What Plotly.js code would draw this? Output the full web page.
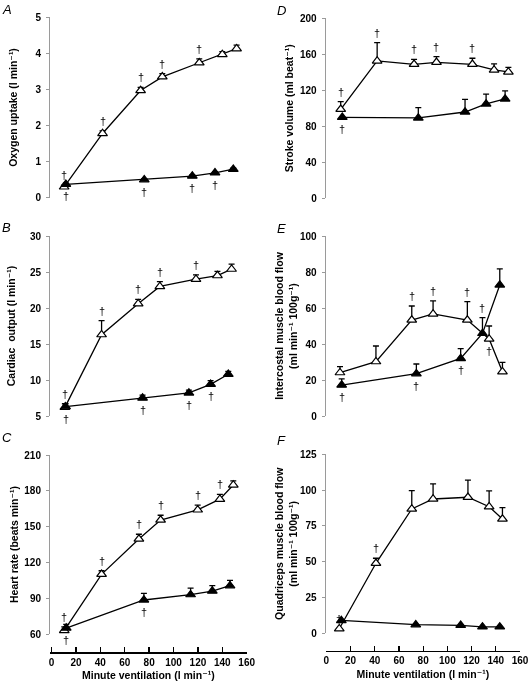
<!DOCTYPE html>
<html><head><meta charset="utf-8">
<script src="https://cdn.plot.ly/plotly-3.0.1.min.js"></script>
<style>html,body{margin:0;padding:0;background:#fff;}#chart{width:529px;height:686px;filter:grayscale(100%);}</style>
</head><body><div id="chart"></div>
<script>
// ---------- DATA ----------
// Panel A: oxygen uptake (l/min)
const xOpenA = [10.3, 41.8, 73.0, 90.8, 121.1, 140.0, 151.7];
const yOpenA = [0.30, 1.78, 2.97, 3.35, 3.74, 3.97, 4.13];
const eOpenA = [0.05, 0.07, 0.09, 0.09, 0.11, 0.08, 0.10];
const xFillA = [11.7, 76.0, 115.4, 134.0, 149.0];
const yFillA = [0.37, 0.50, 0.60, 0.69, 0.79];
const eFillA = [0.03, 0.03, 0.03, 0.03, 0.03];
const dOpenA = ['a','a','a','a','a','',''];
const dFillA = ['b','b','b','b',''];
// Panel B: cardiac output (l/min)
const xOpenB = [10.9, 41.0, 71.0, 88.8, 118.4, 136.0, 147.6];
const yOpenB = [6.2, 16.3, 20.6, 23.0, 24.0, 24.5, 25.4];
const eOpenB = [0.5, 1.95, 0.6, 0.65, 0.6, 0.6, 0.7];
const xFillB = [11.5, 74.6, 112.6, 130.4, 144.9];
const yFillB = [6.3, 7.5, 8.2, 9.4, 10.8];
const eFillB = [0.4, 0.4, 0.4, 0.5, 0.4];
const dOpenB = ['a','a','a','a','a','',''];
const dFillB = ['b','b','b','b',''];
// Panel C: heart rate (beats/min)
const xOpenC = [10.4, 41.0, 71.6, 89.4, 119.8, 138.0, 149.0];
const yOpenC = [63, 110, 139.6, 155.5, 164, 173, 184.9];
const eOpenC = [3, 3, 4, 4, 4, 4, 3.5];
const xFillC = [12.0, 75.7, 114.0, 131.8, 146.3];
const yFillC = [65, 88.5, 93, 96, 100.5];
const eFillC = [3, 5.5, 5.5, 4.5, 4.5];
const dOpenC = ['a','a','a','a','a','a',''];
const dFillC = ['b','b','','',''];
// Panel D: stroke volume (ml/beat)
const xOpenD = [11.9, 42.0, 72.5, 91.0, 120.7, 138.6, 150.4];
const yOpenD = [98.9, 152.6, 148.9, 151.1, 148.9, 142.6, 140.4];
const eOpenD = [8.5, 20.4, 5.5, 6.3, 6.7, 6.7, 5];
const xFillD = [13.2, 76.0, 114.6, 132.0, 147.7];
const yFillD = [90, 89.3, 95.9, 104.8, 110.4];
const eFillD = [0, 11.4, 14, 11, 9];
const dOpenD = ['a','a','a','a','a','',''];
const dFillD = ['b','','','',''];
// Panel E: intercostal muscle blood flow
const xOpenE = [11.3, 41.0, 70.6, 88.2, 116.5, 134.5, 145.5];
const yOpenE = [24.1, 30.2, 53.3, 56.7, 53.3, 42.8, 24.6];
const eOpenE = [3.3, 8.7, 7.8, 7.3, 10.2, 7.2, 5.2];
const xFillE = [12.7, 74.4, 111.0, 129.0, 143.3];
const yFillE = [17.2, 23.5, 32.0, 45.9, 72.8];
const eFillE = [3.4, 5.4, 5.4, 8.7, 8.9];
const dOpenE = ['','','a','a','a','b',''];
const dFillE = ['b','b','b','a',''];
// Panel F: quadriceps muscle blood flow
const xOpenF = [10.7, 41.0, 70.6, 88.2, 117.0, 134.5, 145.5];
const yOpenF = [3.2, 48.9, 86.8, 93.8, 95.0, 88.4, 79.8];
const eOpenF = [0, 3.5, 12.8, 10.5, 12, 11, 8];
const xFillF = [12.4, 73.9, 111.0, 129.0, 143.3];
const yFillF = [9, 6, 5.6, 4.5, 4.5];
const eFillF = [0, 0, 0, 0, 0];
const dOpenF = ['a','a','','','','',''];
const dFillF = ['','','','',''];

const panelLetters = ['A','B','C','D','E','F'];
const yTitles = [
  'Oxygen uptake (l min\u207B\u00B9)',
  'Cardiac  output (l min\u207B\u00B9)',
  'Heart rate (beats min\u207B\u00B9)',
  'Stroke volume (ml beat\u207B\u00B9)',
  'Intercostal muscle blood flow<br>(ml min\u207B\u00B9 100g\u207B\u00B9)',
  'Quadriceps muscle blood flow<br>(ml min\u207B\u00B9 100g\u207B\u00B9)'
];
const xTitle = 'Minute ventilation (l min\u207B\u00B9)';
const xTickStep = 20;

// ---------- LAYOUT / STYLE ----------
const W = 529, H = 686;
const FONT = 'Liberation Sans, Arial, Helvetica, DejaVu Sans, sans-serif';
const px = v => v / W;
const py = v => 1 - v / H;

const panels = [
  {open: [xOpenA, yOpenA, eOpenA, dOpenA], fill: [xFillA, yFillA, eFillA, dFillA],
   xd: [50, 246.7], xr: [-1.3, 160], yd: [17.3, 197.7], yr: [0, 5], dt: 1, bottom: false, standoff: 15, lt: [0, 0]},
  {open: [xOpenB, yOpenB, eOpenB, dOpenB], fill: [xFillB, yFillB, eFillB, dFillB],
   xd: [50, 246.7], xr: [-1.3, 160], yd: [236, 416], yr: [5, 30], dt: 5, bottom: false, standoff: 12, lt: [0, 218]},
  {open: [xOpenC, yOpenC, eOpenC, dOpenC], fill: [xFillC, yFillC, eFillC, dFillC],
   xd: [50, 246.7], xr: [-1.3, 160], yd: [455, 634], yr: [60, 210], dt: 30, bottom: true, xpos: 652, standoff: 3, lt: [0, 428]},
  {open: [xOpenD, yOpenD, eOpenD, dOpenD], fill: [xFillD, yFillD, eFillD, dFillD],
   xd: [325.7, 520], xr: [-0.5, 160], yd: [18.3, 198.3], yr: [0, 200], dt: 40, bottom: false, standoff: 4, lt: [275, 1]},
  {open: [xOpenE, yOpenE, eOpenE, dOpenE], fill: [xFillE, yFillE, eFillE, dFillE],
   xd: [325.7, 520], xr: [-0.5, 160], yd: [236, 416], yr: [0, 100], dt: 20, bottom: false, standoff: 0, lt: [275, 219]},
  {open: [xOpenF, yOpenF, eOpenF, dOpenF], fill: [xFillF, yFillF, eFillF, dFillF],
   xd: [325.7, 520], xr: [-0.5, 160], yd: [454.3, 633.3], yr: [0, 125], dt: 25, bottom: true, xpos: 650.7, standoff: 0, lt: [275, 431]}
];

const traces = [];
const layout = {
  width: W, height: H,
  margin: {l: 0, r: 0, t: 0, b: 0, pad: 0},
  paper_bgcolor: '#fff', plot_bgcolor: 'rgba(0,0,0,0)',
  showlegend: false,
  font: {family: FONT, color: '#000', size: 10},
  annotations: []
};

panels.forEach((p, i) => {
  const n = i + 1;
  const xa = n === 1 ? 'x' : 'x' + n;
  const ya = n === 1 ? 'y' : 'y' + n;
  const xk = n === 1 ? 'xaxis' : 'xaxis' + n;
  const yk = n === 1 ? 'yaxis' : 'yaxis' + n;

  const xaxis = {
    domain: [px(p.xd[0]), px(p.xd[1])], range: p.xr, anchor: ya,
    showgrid: false, zeroline: false, fixedrange: true
  };
  if (p.bottom) {
    Object.assign(xaxis, {
      anchor: 'free', position: py(p.xpos), visible: true,
      showline: true, linecolor: '#000', linewidth: 1.6,
      ticks: 'inside', ticklen: 5, tickwidth: 1.3, tickcolor: '#000',
      dtick: xTickStep, tick0: 0,
      tickfont: {family: FONT, size: 10, weight: 'bold', color: '#000'},
      title: {text: xTitle, standoff: 5, font: {family: FONT, size: 10.5, weight: 'bold', color: '#000'}}
    });
  } else {
    xaxis.visible = false;
  }
  layout[xk] = xaxis;

  layout[yk] = {
    domain: [py(p.yd[1]), py(p.yd[0])], range: p.yr, anchor: xa,
    showgrid: false, zeroline: false, fixedrange: true,
    showline: true, linecolor: '#9a9a9a', linewidth: 1,
    ticks: 'outside', ticklen: 3, tickwidth: 1, tickcolor: '#9a9a9a',
    dtick: p.dt, tick0: p.yr[0], ticklabelstandoff: 3,
    tickfont: {family: FONT, size: 10, weight: 'bold', color: '#000'},
    title: {text: yTitles[i], standoff: p.standoff, font: {family: FONT, size: 10.5, weight: 'bold', color: '#000'}}
  };

  const mk = (d, fillColor) => ({
    type: 'scatter', mode: 'lines+markers', xaxis: xa, yaxis: ya,
    x: d[0], y: d[1], cliponaxis: false, hoverinfo: 'skip',
    line: {color: '#000', width: 1.3},
    marker: {symbol: 'triangle-up', size: 8.5, color: fillColor, line: {color: '#000', width: 1.2}},
    error_y: {type: 'data', symmetric: false, array: d[2], arrayminus: d[2].map(() => 0),
              color: '#000', thickness: 1.3, width: 3}
  });
  traces.push(mk(p.open, '#fff'));
  traces.push(mk(p.fill, '#000'));

  // significance daggers
  [p.open, p.fill].forEach(d => {
    d[3].forEach((flag, k) => {
      if (!flag) return;
      layout.annotations.push({
        xref: xa, yref: ya, x: d[0][k],
        y: flag === 'a' ? d[1][k] + d[2][k] : d[1][k],
        yshift: flag === 'a' ? 10 : -12,
        text: '\u2020', showarrow: false,
        font: {family: FONT, size: 11, color: '#000'}
      });
    });
  });

  // panel letter
  layout.annotations.push({
    xref: 'paper', yref: 'paper', x: px(p.lt[0]), y: py(p.lt[1]),
    xanchor: 'left', yanchor: 'top', text: panelLetters[i], showarrow: false,
    font: {family: FONT, size: 13, style: 'italic', color: '#000'}
  });
});

Plotly.newPlot('chart', traces, layout, {staticPlot: true, displayModeBar: false});
</script></body></html>
